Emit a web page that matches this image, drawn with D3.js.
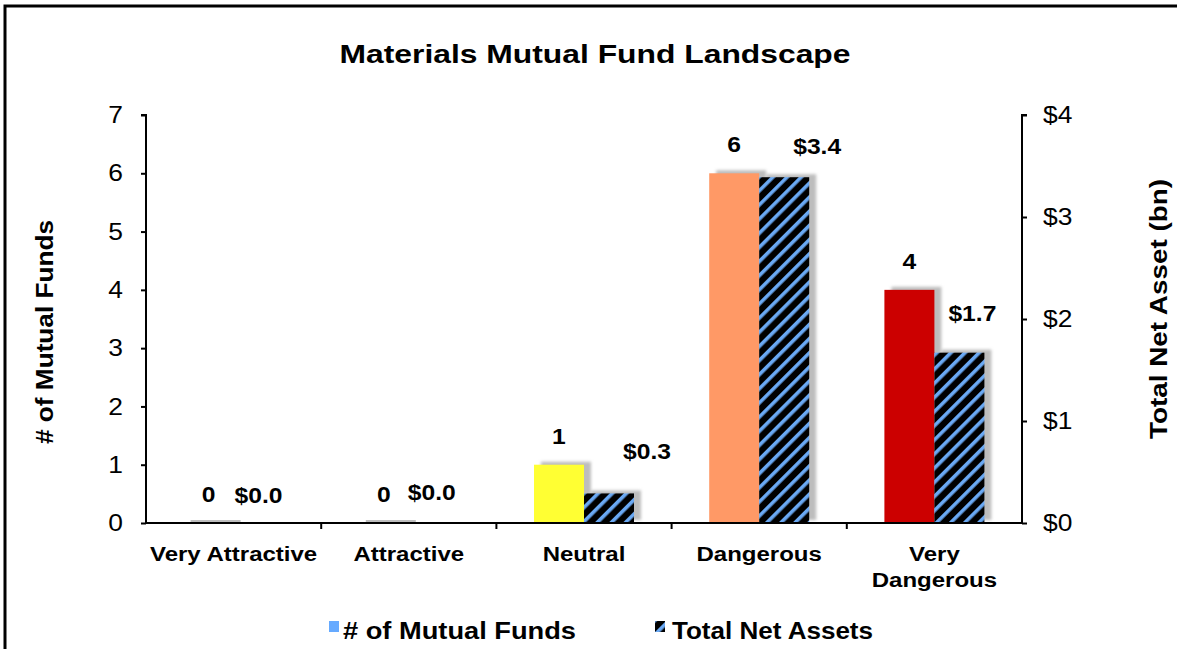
<!DOCTYPE html>
<html>
<head>
  <script src="https://d3js.org/d3.v7.min.js"></script>
  <style>
    body { margin: 0; background: #fff; }
    text { font-family: Arial, "Liberation Sans", sans-serif; }
  </style>
</head>
<body>
<svg width="1177" height="649"></svg>
<script>
  // chart data
  const categories = ["Very Attractive", "Attractive", "Neutral", "Dangerous", "Very Dangerous"];
  const fundCounts = [0, 0, 1, 6, 4];
  const netAssets = [0.0, 0.0, 0.29, 3.39, 1.67];
  const barColors = ["#66aaff", "#66aaff", "#ffff33", "#ff9966", "#cc0000"];
  const leftTicks = [0, 1, 2, 3, 4, 5, 6, 7];
  const rightTicks = [0, 1, 2, 3, 4];

  const svg = d3.select("svg");
  const x0 = 146, x1 = 1022, yTop = 115, yBot = 523;
  const barW = 50;

  // the source picture has wide-ish text, stretch a bit horizontally
  function stretch(sel, sx) {
    sel.each(function() {
      const w = this.getComputedTextLength();
      d3.select(this).attr("textLength", w * sx).attr("lengthAdjust", "spacingAndGlyphs");
    });
  }
  function fit(sel, len) {
    sel.attr("textLength", len).attr("lengthAdjust", "spacingAndGlyphs");
  }

  // outer frame (only left and top visible)
  svg.append("rect")
    .attr("x", 5).attr("y", 6).attr("width", 1200).attr("height", 700)
    .attr("fill", "none").attr("stroke", "#000").attr("stroke-width", 3);

  const defs = svg.append("defs");
  const pat = defs.append("pattern")
    .attr("id", "hatch")
    .attr("patternUnits", "userSpaceOnUse")
    .attr("width", 10).attr("height", 10)
    .attr("patternTransform", "rotate(45)");
  pat.append("rect").attr("width", 10).attr("height", 10).attr("fill", "#000");
  pat.append("rect").attr("x", 0).attr("width", 3.6).attr("height", 10).attr("fill", "#6aa9f4");

  defs.append("filter").attr("id", "blur")
    .attr("x", "-50%").attr("y", "-50%").attr("width", "200%").attr("height", "200%")
    .append("feGaussianBlur").attr("stdDeviation", 1.6);

  const xScale = d3.scaleBand().domain(categories).range([x0, x1]);
  const yLeft = d3.scaleLinear().domain([0, 7]).range([yBot, yTop]);
  const yRight = d3.scaleLinear().domain([0, 4]).range([yBot, yTop]);

  // title
  svg.append("text")
    .attr("x", 595).attr("y", 63)
    .attr("text-anchor", "middle")
    .style("font-size", "26px").style("font-weight", "bold")
    .text("Materials Mutual Fund Landscape")
    .call(fit, 511);

  const rows = categories.map((c, i) => ({ c, n: fundCounts[i], a: netAssets[i], color: barColors[i] }));

  // shadows
  const g = svg.append("g");
  g.selectAll(".shadowN").data(rows).enter().append("rect")
    .attr("x", d => xScale(d.c) + xScale.bandwidth() / 2 - barW + 7)
    .attr("y", d => yLeft(d.n) - 3)
    .attr("width", barW)
    .attr("height", d => Math.max(2, yBot - yLeft(d.n)))
    .attr("fill", "#bdbdbd")
    .attr("filter", d => d.n > 0 ? "url(#blur)" : null);
  g.selectAll(".shadowA").data(rows.filter(d => d.a > 0)).enter().append("rect")
    .attr("x", d => xScale(d.c) + xScale.bandwidth() / 2 + 7)
    .attr("y", d => yRight(d.a) - 3)
    .attr("width", barW)
    .attr("height", d => yBot - yRight(d.a))
    .attr("fill", "#bdbdbd")
    .attr("filter", "url(#blur)");

  // bars
  g.selectAll(".barN").data(rows.filter(d => d.n > 0)).enter().append("rect")
    .attr("x", d => xScale(d.c) + xScale.bandwidth() / 2 - barW)
    .attr("y", d => yLeft(d.n))
    .attr("width", barW)
    .attr("height", d => yBot - yLeft(d.n))
    .attr("fill", d => d.color);
  g.selectAll(".barA").data(rows.filter(d => d.a > 0)).enter().append("rect")
    .attr("x", d => xScale(d.c) + xScale.bandwidth() / 2)
    .attr("y", d => yRight(d.a))
    .attr("width", barW)
    .attr("height", d => yBot - yRight(d.a))
    .attr("fill", "url(#hatch)");

  // value labels
  const assetLabelShift = [[0, 20], [-2, 23], [38, 34], [33, 23], [13, 32]];
  g.selectAll(".lblN").data(rows).enter().append("text")
    .attr("x", d => xScale(d.c) + xScale.bandwidth() / 2 - barW / 2)
    .attr("y", d => yLeft(d.n) - 21)
    .attr("text-anchor", "middle")
    .style("font-size", "22px").style("font-weight", "bold")
    .text(d => d.n)
    .call(stretch, 1.12);
  g.selectAll(".lblA").data(rows).enter().append("text")
    .attr("x", (d, i) => xScale(d.c) + xScale.bandwidth() / 2 + barW / 2 + assetLabelShift[i][0])
    .attr("y", (d, i) => yRight(d.a) - assetLabelShift[i][1])
    .attr("text-anchor", "middle")
    .style("font-size", "22px").style("font-weight", "bold")
    .text(d => "$" + d.a.toFixed(1))
    .call(stretch, 1.12);

  // axes
  const axL = svg.append("g").attr("transform", `translate(${x0},0)`)
    .call(d3.axisLeft(yLeft).tickValues(leftTicks).tickSize(5).tickPadding(18).tickFormat(d3.format("d")));
  const axR = svg.append("g").attr("transform", `translate(${x1},0)`)
    .call(d3.axisRight(yRight).tickValues(rightTicks).tickSize(5).tickPadding(16).tickFormat(d => "$" + d));
  [axL, axR].forEach(a => {
    a.select(".domain").attr("stroke-width", 2).attr("d", a === axL ? `M-5,${yTop}H0V${yBot}` : `M5,${yTop}H0V${yBot}`);
    a.selectAll(".tick line").attr("stroke-width", 2);
    a.selectAll(".tick text").style("font-size", "24px").attr("fill", "#000")
      .style("font-family", "Arial, 'Liberation Sans', sans-serif")
      .call(stretch, 1.1);
  });

  const bounds = d3.range(1, categories.length).map(i => x0 + i * xScale.step());
  svg.append("line").attr("x1", x0).attr("x2", x1).attr("y1", yBot).attr("y2", yBot)
    .attr("stroke", "#000").attr("stroke-width", 2);
  svg.selectAll(".xtick").data(bounds).enter().append("line")
    .attr("x1", d => d).attr("x2", d => d).attr("y1", yBot).attr("y2", yBot + 6)
    .attr("stroke", "#000").attr("stroke-width", 2);

  // category labels
  svg.selectAll(".cat").data(categories).enter().append("text")
    .attr("x", d => xScale(d) + xScale.bandwidth() / 2)
    .attr("y", 561)
    .attr("text-anchor", "middle")
    .style("font-size", "20px").style("font-weight", "bold")
    .each(function(d) {
      const words = d === "Very Dangerous" ? ["Very", "Dangerous"] : [d];
      d3.select(this).selectAll("tspan").data(words).enter().append("tspan")
        .attr("x", xScale(d) + xScale.bandwidth() / 2)
        .attr("dy", (w, j) => j === 0 ? 0 : 26)
        .text(w => w)
        .call(stretch, 1.2);
    });

  // axis titles
  svg.append("text")
    .attr("transform", "translate(53,332) rotate(-90)")
    .attr("text-anchor", "middle")
    .style("font-size", "23px").style("font-weight", "bold")
    .text("# of Mutual Funds")
    .call(fit, 224);
  svg.append("text")
    .attr("transform", "translate(1167,309) rotate(-90)")
    .attr("text-anchor", "middle")
    .style("font-size", "23px").style("font-weight", "bold")
    .text("Total Net Asset (bn)")
    .call(fit, 260);

  // legend
  svg.append("rect").attr("x", 329).attr("y", 621).attr("width", 10).attr("height", 11).attr("fill", "#66aaff");
  svg.append("text").attr("x", 343).attr("y", 639)
    .style("font-size", "23px").style("font-weight", "bold").text("# of Mutual Funds")
    .call(fit, 233);
  svg.append("rect").attr("x", 655).attr("y", 621).attr("width", 10).attr("height", 11).attr("fill", "url(#hatch)");
  svg.append("text").attr("x", 672).attr("y", 639)
    .style("font-size", "23px").style("font-weight", "bold").text("Total Net Assets")
    .call(fit, 201);
</script>
</body>
</html>
